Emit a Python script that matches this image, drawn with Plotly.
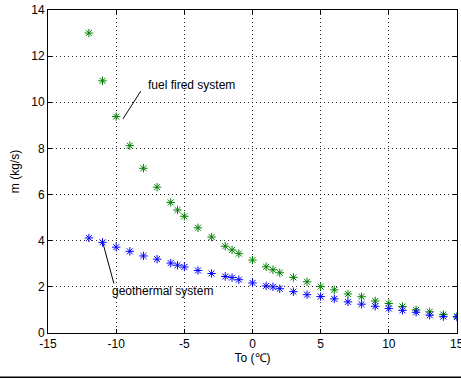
import plotly.graph_objects as go

temps = [-12, -11, -10, -9, -8, -7, -6, -5.5, -5, -4, -3, -2, -1.5, -1, 0,
         1, 1.5, 2, 3, 4, 5, 6, 7, 8, 9, 10, 11, 12, 13, 14, 15]
fuel_fired = [13.0, 10.93, 9.38, 8.12, 7.14, 6.32, 5.66, 5.33, 5.06, 4.56, 4.16, 3.76, 3.6, 3.44, 3.16,
              2.87, 2.74, 2.61, 2.41, 2.22, 2.01, 1.87, 1.69, 1.57, 1.39, 1.28, 1.15, 1.0, 0.92, 0.8, 0.72]
geothermal = [4.12, 3.93, 3.72, 3.54, 3.34, 3.2, 3.03, 2.94, 2.86, 2.71, 2.58, 2.45, 2.4, 2.31, 2.17,
              2.04, 2.0, 1.92, 1.79, 1.66, 1.58, 1.48, 1.35, 1.25, 1.16, 1.06, 0.98, 0.9, 0.77, 0.71, 0.69]
x_ticks = [-15, -10, -5, 0, 5, 10, 15]
y_ticks = [0, 2, 4, 6, 8, 10, 12, 14]

fig = go.Figure()
fig.add_trace(go.Scatter(x=temps, y=fuel_fired, mode="markers", name="fuel fired system",
                         marker=dict(symbol="asterisk-open", size=7, color="rgb(0,128,0)",
                                     line=dict(color="rgb(0,128,0)", width=1))))
fig.add_trace(go.Scatter(x=temps, y=geothermal, mode="markers", name="geothermal system",
                         marker=dict(symbol="asterisk-open", size=7, color="rgb(0,0,255)",
                                     line=dict(color="rgb(0,0,255)", width=1))))

font = dict(family="Liberation Sans, Arial, sans-serif", size=12, color="black")

axis_common = dict(showline=True, linecolor="black", linewidth=1, mirror="ticks",
                   ticks="inside", ticklen=4, tickcolor="black",
                   showgrid=True, gridcolor="rgba(0,0,0,0.85)", griddash="1px,3px", gridwidth=1,
                   zeroline=False, tickfont=font)

# the last x tick label is drawn separately below because it sits on the window edge
fig.update_xaxes(range=[-15, 15], tickvals=x_ticks,
                 ticktext=[str(v) if v != x_ticks[-1] else "" for v in x_ticks],
                 title=dict(text="To (℃)", font=font, standoff=3), **axis_common)
fig.update_yaxes(range=[0, 14], tickvals=y_ticks, ticktext=[str(v) for v in y_ticks],
                 title=dict(text="m (kg/s)", font=font, standoff=9), **axis_common)

fig.add_annotation(x=x_ticks[-1], y=0, yref="y", text=str(x_ticks[-1]), showarrow=False,
                   xanchor="center", yanchor="top", yshift=-2, font=font)

fig.add_annotation(x=-7.8, y=10.74, text="fuel fired system", showarrow=False,
                   xanchor="left", yanchor="middle", font=font)
fig.add_shape(type="line", x0=-8.2, y0=10.48, x1=-9.5, y1=9.28,
              line=dict(color="black", width=1))
fig.add_annotation(x=-10.45, y=1.8, text="geothermal system", showarrow=False,
                   xanchor="left", yanchor="middle", font=font)
fig.add_shape(type="line", x0=-10.95, y0=3.85, x1=-10.17, y1=2.15,
              line=dict(color="black", width=1))
fig.add_shape(type="line", xref="paper", yref="paper", x0=-0.2, x1=1.2, y0=-0.137, y1=-0.137,
              line=dict(color="black", width=1.5))

fig.update_layout(width=461, height=379, margin=dict(l=48, r=3, t=7, b=46),
                  paper_bgcolor="white", plot_bgcolor="white", showlegend=False, font=font)

fig.write_html("out.html")
